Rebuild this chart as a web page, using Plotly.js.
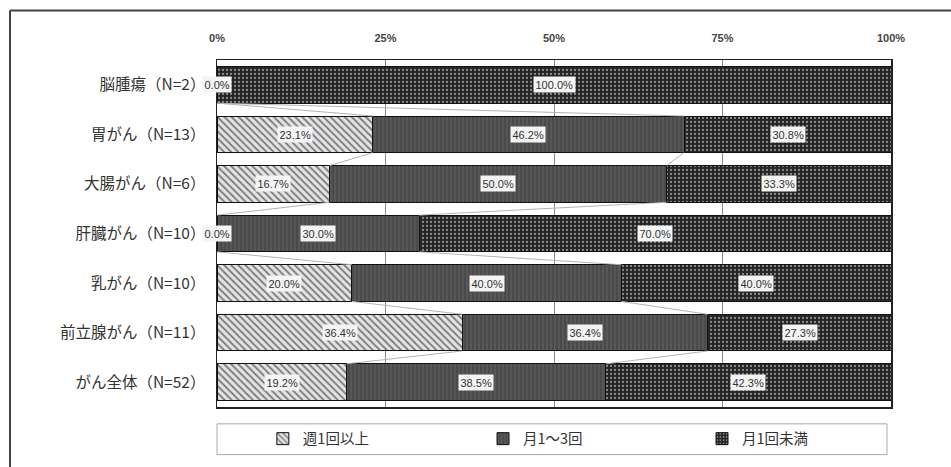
<!DOCTYPE html>
<html>
<head>
<meta charset="utf-8">
<script src="https://cdn.plot.ly/plotly-3.0.1.min.js"></script>
<style>html,body{margin:0;padding:0;background:#fff;}#chart{width:951px;height:467px;}</style>
</head>
<body>
<div id="chart"></div>
<script>
var categories = ["脳腫瘍（N=2）", "胃がん（N=13）", "大腸がん（N=6）", "肝臓がん（N=10）", "乳がん（N=10）", "前立腺がん（N=11）", "がん全体（N=52）"];
var seriesNames = ["週1回以上", "月1～3回", "月1回未満"];
var weekly = [0.0, 23.1, 16.7, 0.0, 20.0, 36.4, 19.2];
var monthly = [0.0, 46.2, 50.0, 30.0, 40.0, 36.4, 38.5];
var lessMonthly = [100.0, 30.8, 33.3, 70.0, 40.0, 27.3, 42.3];
var tickVals = [0, 25, 50, 75, 100];
var tickText = ["0%", "25%", "50%", "75%", "100%"];

var seriesValues = [weekly, monthly, lessMonthly];
var idx = categories.map(function(_, i){ return i; });
var styles = [
  {bg:"#e4e4e4", fg:"#7a7a7a", shape:"\\", size:5, sol:0.35},
  {bg:"#4a4a4a", fg:"#606060", shape:"|", size:4, sol:0.3},
  {bg:"#242424", fg:"#8a8a8a", shape:".", size:4, sol:0.25}
];
var legendIds = ["legend", "legend2", "legend3"];
var traces = [];
var half = 0.37;
var cum = categories.map(function(){ return 0; });
var cums = [];
for (var s = 0; s < seriesValues.length; s++) {
  cum = cum.map(function(c, i){ return c + seriesValues[s][i]; });
  cums.push(cum.slice());
}
for (var s2 = 0; s2 < 2; s2++) {
  var lx = [], ly = [];
  for (var i = 0; i < categories.length - 1; i++) {
    lx.push(cums[s2][i], cums[s2][i+1], null);
    ly.push(i + half, i + 1 - half, null);
  }
  traces.push({type:"scatter", mode:"lines", x:lx, y:ly, showlegend:false, hoverinfo:"skip",
    line:{color:"#b4b4b4", width:1}});
}
seriesValues.forEach(function(vals, s){
  traces.push({
    type:"bar", orientation:"h", name:seriesNames[s], x:vals, y:idx, legend:legendIds[s],
    marker:{color:styles[s].bg, line:{color:"#111", width:1},
      pattern:{shape:styles[s].shape, bgcolor:styles[s].bg, fgcolor:styles[s].fg, size:styles[s].size, solidity:styles[s].sol, fillmode:"replace"}},
    hoverinfo:"x+name"
  });
});
var annotations = [];
seriesValues.forEach(function(vals, s){
  vals.forEach(function(v, i){
    var start = s === 0 ? 0 : cums[s-1][i];
    if (s === 1 && v === 0) return;
    annotations.push({x:start + v/2, y:i, xref:"x", yref:"y", text:v.toFixed(1)+"%", showarrow:false,
      bgcolor:"#f4f4f4", borderpad:1.5, font:{family:"Liberation Sans, Arial", size:11, color:"#333"}});
  });
});
function legendAt(xp){
  return {orientation:"h", x:xp, xanchor:"left", y:-0.0914, yanchor:"middle",
    bgcolor:"rgba(0,0,0,0)", font:{family:"Noto Sans CJK JP", size:14.5, color:"#333"}, itemwidth:30};
}
var layout = {
  width:951, height:467,
  margin:{l:217, r:60, t:60, b:57},
  paper_bgcolor:"#ffffff", plot_bgcolor:"#ffffff",
  barmode:"stack", bargap:0.26,
  showlegend:true,
  legend:legendAt(0.068),
  legend2:legendAt(0.3947),
  legend3:legendAt(0.7196),
  xaxis:{side:"top", range:[0,100], tickvals:tickVals, ticktext:tickText, showgrid:true, gridcolor:"#8a8a8a", gridwidth:1,
    zeroline:false, showline:true, mirror:true, linecolor:"#222", linewidth:1.5, ticks:"", ticklabelstandoff:12,
    tickfont:{family:"Liberation Sans, Arial", size:11, weight:"bold", color:"#444"}, fixedrange:true},
  yaxis:{range:[6.5,-0.5], tickvals:idx, ticktext:categories, showgrid:false, zeroline:false, showline:true, mirror:true,
    linecolor:"#222", linewidth:1.5, ticks:"", ticklabelstandoff:7,
    tickfont:{family:"Noto Sans CJK JP", size:15.5, color:"#333"}, fixedrange:true},
  annotations:annotations,
  shapes:[
    {type:"line", xref:"paper", yref:"paper", x0:(10-217)/674, x1:(1200-217)/674, y0:(410-10)/350, y1:(410-10)/350,
      line:{color:"#444", width:2}},
    {type:"line", xref:"paper", yref:"paper", x0:(10-217)/674, x1:(10-217)/674, y0:(410-10)/350, y1:(410-700)/350,
      line:{color:"#444", width:2}},
    {type:"rect", xref:"paper", yref:"paper", x0:0, x1:(887-217)/674, y0:(410-458)/350, y1:(410-427)/350,
      line:{color:"#aaa", width:1}, fillcolor:"rgba(0,0,0,0)"}
  ]
};
Plotly.newPlot("chart", traces, layout, {displayModeBar:false, staticPlot:true});
</script>
</body>
</html>
